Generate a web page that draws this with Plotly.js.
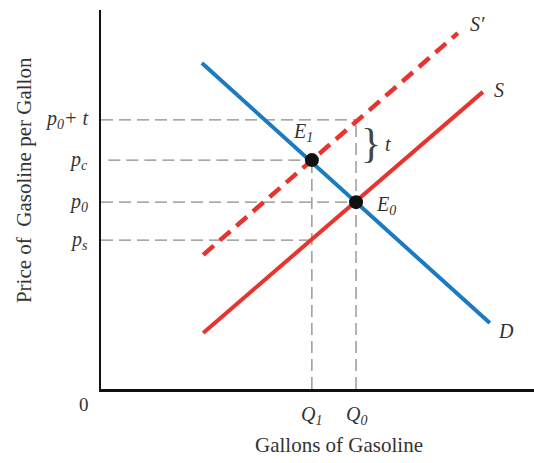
<!DOCTYPE html>
<html><head><meta charset="utf-8">
<script src="https://cdn.plot.ly/plotly-3.0.1.min.js"></script>
<style>html,body{margin:0;padding:0;background:#fff}#c{width:534px;height:463px}</style>
</head><body><div id="c"></div>
<script>
// Curve endpoints (data units)
const demandX = [2.33, 8.98];
const demandY = [8.60, 1.74];
const supplyX = [2.36, 8.82];
const supplyY = [1.48, 7.84];
const supplyTaxX = [2.36, 8.24];
const supplyTaxY = [3.54, 9.39];
// Equilibria
const eqNames = ["E<sub>1</sub>", "E<sub>0</sub>"];
const eqX = [4.87, 5.89];
const eqY = [6.04, 4.93];
// Price levels and their labels
const priceLabels = ["p<sub>0</sub>+ t", "p<sub>c</sub>", "p<sub>0</sub>", "p<sub>s</sub>"];
const priceLevels = [7.10, 6.04, 4.93, 3.93];
const priceGuideEnd = [5.89, 4.87, 5.89, 4.87];
const priceGuideStart = [0, 0.17, 0, 0];
// Quantities
const qtyLabels = ["Q<sub>1</sub>", "Q<sub>0</sub>"];
const qtyLevels = [4.87, 5.89];
const qtyGuideTop = [6.04, 7.10];
const xMax = 10, yMax = 10;

const serif = "Liberation Serif, DejaVu Serif, serif";
const red = "#e8342f", blue = "#1b7bc0", guide = "#8a8a8a";

const traces = [];
priceLevels.forEach((p, i) => traces.push({
  x: [priceGuideStart[i], priceGuideEnd[i]], y: [p, p], mode: "lines",
  line: {color: guide, width: 1.3, dash: "12px,6px"}, hoverinfo: "skip"
}));
qtyLevels.forEach((q, i) => traces.push({
  x: [q, q], y: [0, qtyGuideTop[i]], mode: "lines",
  line: {color: guide, width: 1.3, dash: "12px,6px"}, hoverinfo: "skip"
}));
traces.push({x: supplyTaxX, y: supplyTaxY, mode: "lines", line: {color: red, width: 4.5, dash: "14px,8px"}});
traces.push({x: supplyX, y: supplyY, mode: "lines", line: {color: red, width: 4}});
traces.push({x: demandX, y: demandY, mode: "lines", line: {color: blue, width: 4}});
traces.push({x: eqX, y: eqY, mode: "markers", marker: {color: "#111", size: 14}});

const lblFont = {family: serif, size: 20, color: "#333"};
const ann = [];
const A = (o) => ann.push(Object.assign({showarrow: false, xanchor: "center", yanchor: "middle", font: lblFont}, o));
priceLabels.forEach((t, i) => A({
  x: -0.026, y: priceLevels[i] / yMax, xref: "paper", yref: "paper", text: "<i>" + t + "</i>", xanchor: "right"
}));
qtyLabels.forEach((t, i) => A({
  x: qtyLevels[i] / xMax, y: -0.069, xref: "paper", yref: "paper", text: "<i>" + t + "</i>"
}));
A({x: eqX[0] - 0.2, y: eqY[0] + 0.72, xref: "x", yref: "y", text: "<i>" + eqNames[0] + "</i>"});
A({x: eqX[1] + 0.7, y: eqY[1] - 0.1, xref: "x", yref: "y", text: "<i>" + eqNames[1] + "</i>"});
A({x: supplyTaxX[1] + 0.45, y: supplyTaxY[1] + 0.25, xref: "x", yref: "y", text: "<i>S\u2032</i>"});
A({x: supplyX[1] + 0.38, y: supplyY[1] + 0.05, xref: "x", yref: "y", text: "<i>S</i>"});
A({x: demandX[1] + 0.37, y: demandY[1] - 0.22, xref: "x", yref: "y", text: "<i>D</i>"});
A({x: 6.24, y: 6.48, xref: "x", yref: "y", text: "}", font: {family: serif, size: 42, color: "#444"}});
A({x: 6.62, y: 6.46, xref: "x", yref: "y", text: "<i>t</i>"});
A({x: -0.039, y: -0.04, xref: "paper", yref: "paper", text: "0", font: {family: serif, size: 19, color: "#333"}});
A({x: -0.178, y: 0.551, xref: "paper", yref: "paper", text: "Price of  Gasoline per Gallon", textangle: -90,
  font: {family: serif, size: 21, color: "#333"}});
A({x: 0.55, y: -0.148, xref: "paper", yref: "paper", text: "Gallons of Gasoline",
  font: {family: serif, size: 21, color: "#333"}});

const layout = {
  width: 534, height: 463, showlegend: false,
  margin: {l: 101, r: 0, t: 10, b: 74},
  paper_bgcolor: "#fff", plot_bgcolor: "#fff",
  xaxis: {range: [0, xMax], showgrid: false, zeroline: false, showticklabels: false, ticks: "",
    showline: true, linecolor: "#111", linewidth: 2.5, fixedrange: true},
  yaxis: {range: [0, yMax], showgrid: false, zeroline: false, showticklabels: false, ticks: "",
    showline: true, linecolor: "#111", linewidth: 2.5, fixedrange: true},
  annotations: ann
};
Plotly.newPlot("c", traces, layout, {displayModeBar: false, staticPlot: true});
</script></body></html>
